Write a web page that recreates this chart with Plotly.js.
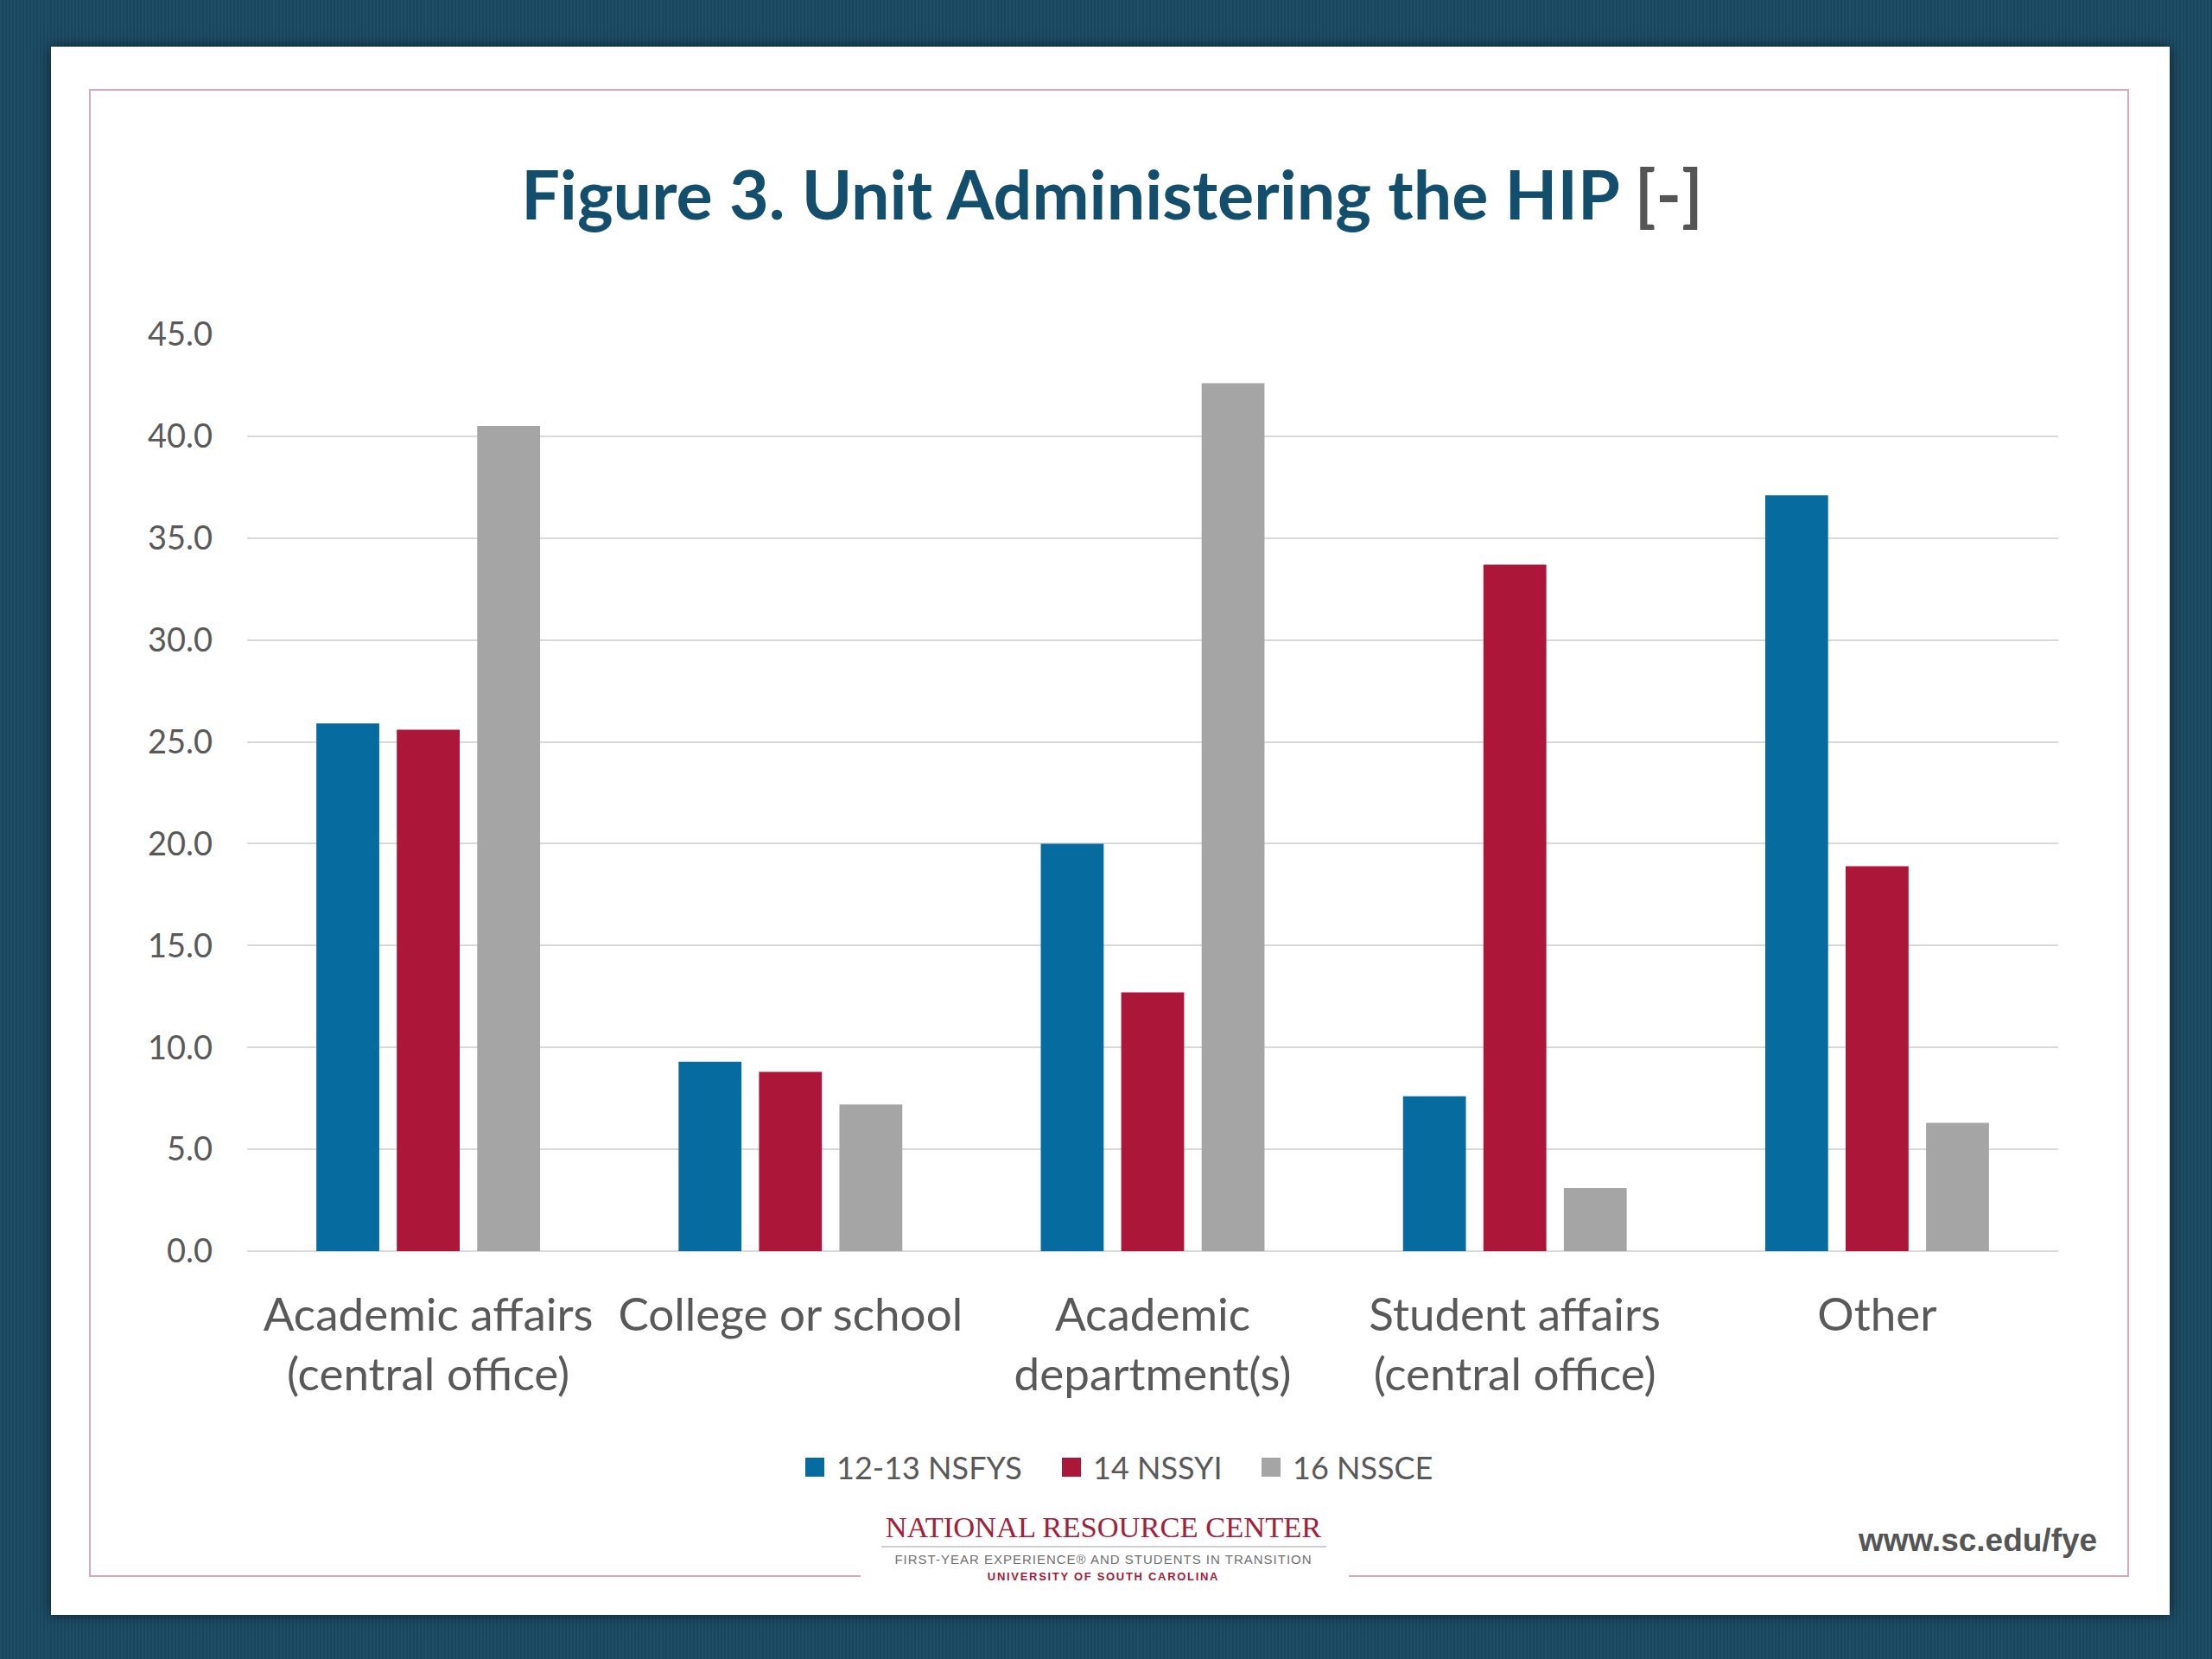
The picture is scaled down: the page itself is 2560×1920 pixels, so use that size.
<!DOCTYPE html>
<html>
<head>
<meta charset="utf-8">
<script src="https://cdn.plot.ly/plotly-3.0.1.min.js"></script>
<style>
  html, body { margin:0; padding:0; width:2560px; height:1920px; overflow:hidden; }
  body {
    background: repeating-linear-gradient(90deg, #1f4e67 0px, #1f4e67 2px, #1a465d 2px, #1a465d 4px);
    position: relative;
  }
  #slide { position:absolute; left:59px; top:54px; width:2452px; height:1815px; background:#ffffff;
           box-shadow: 0 0 14px rgba(0,0,0,0.55); }
  #frame { position:absolute; left:103px; top:103px; width:2357px; height:1718px;
           border:2px solid #d7aab5; }
  #gap { position:absolute; left:996px; top:1815px; width:565px; height:20px; background:#ffffff; }
  #chart { position:absolute; left:0; top:0; width:2560px; height:1920px; }
  .ft { position:absolute; white-space:nowrap; transform:translate(-50%,-50%); }
  #nrc { left:1277px; top:1767px; font-family:"Liberation Serif", serif; font-size:34.5px; color:#a3203b; }
  #nrcline { position:absolute; left:1020px; top:1789px; width:515px; height:2px; background:#d0d0d0; }
  #fye { left:1277px; top:1804px; font-family:"Liberation Sans", sans-serif; font-size:15px; color:#707070; letter-spacing:1.0px; }
  #usc { left:1277px; top:1824px; font-family:"Liberation Sans", sans-serif; font-size:13px; font-weight:bold; color:#a3203b; letter-spacing:1.7px; }
  #url { left:2289px; top:1783px; font-family:"Liberation Sans", Arial, sans-serif; font-size:37px; font-weight:bold; color:#555555; }
</style>
</head>
<body>
<div id="slide"></div>
<div id="frame"></div>
<div id="gap"></div>
<div id="chart"></div>
<div class="ft" id="nrc">NATIONAL RESOURCE CENTER</div>
<div id="nrcline"></div>
<div class="ft" id="fye">FIRST-YEAR EXPERIENCE® AND STUDENTS IN TRANSITION</div>
<div class="ft" id="usc">UNIVERSITY OF SOUTH CAROLINA</div>
<div class="ft" id="url">www.sc.edu/fye</div>
<script>
// ---- data ----
const categories = ['Academic affairs<br>(central office)', 'College or school', 'Academic<br>department(s)', 'Student affairs<br>(central office)', 'Other'];
const seriesNames = ['12-13 NSFYS', '14 NSSYI', '16 NSSCE'];
const nsfys = [25.9, 9.3, 20.0, 7.6, 37.1];
const nssyi = [25.6, 8.8, 12.7, 33.7, 18.9];
const nssce = [40.5, 7.2, 42.6, 3.1, 6.3];
const yTickVals = [0, 5, 10, 15, 20, 25, 30, 35, 40, 45];

const colors = ['#066b9f', '#ab1639', '#a5a5a5'];
const series = [nsfys, nssyi, nssce];

const traces = series.map((vals, i) => ({
  type: 'bar',
  name: seriesNames[i],
  x: categories,
  y: vals,
  marker: { color: colors[i] },
  hoverinfo: 'none',
  showlegend: false
}));

const W = 2560, H = 1920;
const plotL = 286, plotR = 2382, plotT = 387, plotB = 1448;
const px2x = p => (p - plotL) / (plotR - plotL);
const px2y = p => (plotB - p) / (plotB - plotT);

// legend (drawn as shapes + annotations so the swatches match the original size)
const legendY = 1698, sw = 22;
const legendSwatchX = [932, 1229, 1460];
const shapes = [];
const annotations = [];
seriesNames.forEach((name, i) => {
  const x0 = legendSwatchX[i];
  shapes.push({
    type: 'rect', xref: 'paper', yref: 'paper',
    x0: px2x(x0), x1: px2x(x0 + sw),
    y0: px2y(legendY + sw / 2), y1: px2y(legendY - sw / 2),
    fillcolor: colors[i], line: { width: 0 }
  });
  annotations.push({
    xref: 'paper', yref: 'paper',
    x: px2x(x0 + sw + 12), y: px2y(legendY),
    xanchor: 'left', yanchor: 'middle', showarrow: false,
    text: name,
    font: { family: 'Lato, "Open Sans", sans-serif', size: 36, color: '#595959' }
  });
});

const layout = {
  width: W, height: H,
  paper_bgcolor: 'rgba(0,0,0,0)',
  plot_bgcolor: 'rgba(0,0,0,0)',
  margin: { l: plotL, r: W - plotR, t: plotT, b: H - plotB, pad: 0 },
  barmode: 'group',
  bargap: 0.334,
  bargroupgap: 0.218,
  showlegend: false,
  title: {
    text: 'Figure 3. Unit Administering the HIP <span style="color:#555555">[-]</span>',
    font: { family: 'Lato, "Open Sans", sans-serif', size: 79, color: '#134f6c', weight: 'bold' },
    x: 1287 / W, xanchor: 'center', xref: 'container',
    y: 1 - 226 / H, yanchor: 'middle', yref: 'container'
  },
  xaxis: {
    type: 'category',
    showgrid: false,
    showline: false,
    zeroline: false,
    ticks: '',
    tickfont: { family: 'Lato, "Open Sans", sans-serif', size: 53, color: '#595959' },
    ticklabelstandoff: 38,
    fixedrange: true
  },
  yaxis: {
    range: [0, 45],
    tickvals: yTickVals,
    tickformat: '.1f',
    showgrid: true,
    gridcolor: '#d9d9d9',
    gridwidth: 2,
    zeroline: true,
    zerolinecolor: '#d9d9d9',
    zerolinewidth: 2,
    showline: false,
    ticks: '',
    tickfont: { family: 'Lato, "Open Sans", sans-serif', size: 38, color: '#595959' },
    ticklabelstandoff: 39,
    fixedrange: true
  },
  shapes: shapes,
  annotations: annotations
};

Plotly.newPlot('chart', traces, layout, { staticPlot: true, displayModeBar: false });
</script>
</body>
</html>
